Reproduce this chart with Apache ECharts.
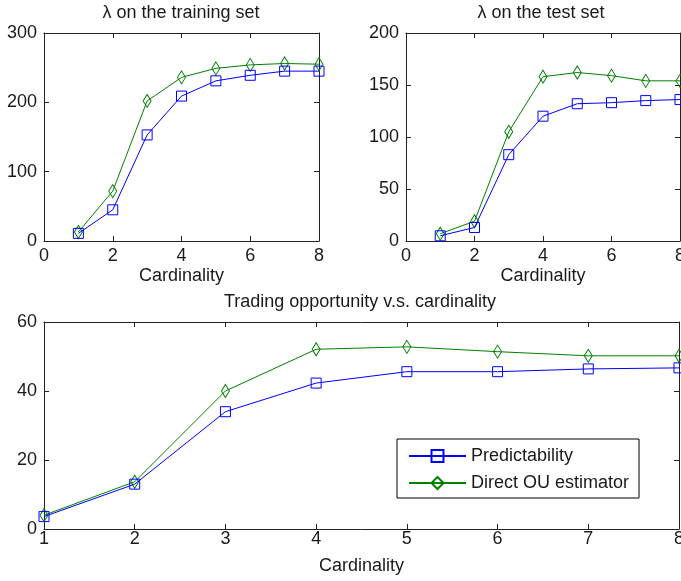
<!DOCTYPE html>
<html><head><meta charset="utf-8">
<script src="https://cdn.jsdelivr.net/npm/echarts@6/dist/echarts.min.js"></script>
<style>html,body{margin:0;padding:0;background:#fff;overflow:hidden}#c{width:681px;height:581px}</style>
</head><body><div id="c"></div>
<script>
const cardinality = [1, 2, 3, 4, 5, 6, 7, 8];
const trainPredict = [11, 45, 153, 209, 231, 239, 245, 245];
const trainOU = [13, 72, 202, 236, 249, 254, 256, 255];
const testPredict = [5, 13, 83, 120, 132, 133, 135, 136];
const testOU = [7, 19, 105, 158, 162, 159, 154, 154];
const tradePredict = [3.6, 13, 34, 42.3, 45.6, 45.6, 46.4, 46.7];
const tradeOU = [4, 13.7, 40, 52.1, 52.8, 51.4, 50.2, 50.2];
const titles = ['\u03bb on the training set', '\u03bb on the test set', 'Trading opportunity v.s. cardinality'];
const xName = 'Cardinality';
const seriesNames = ['Predictability', 'Direct OU estimator'];

const FONT = 'Liberation Sans';
const FS = 18;
const AX = '#222';
const TXT = '#1a1a1a';
const BLUE = '#0000ff', GREEN = '#008000';

const grids = [
  {left: 44, top: 33, width: 275, height: 208, outerBoundsMode: 'none', containLabel: false},
  {left: 406, top: 33, width: 274, height: 208, outerBoundsMode: 'none', containLabel: false},
  {left: 44, top: 322, width: 635, height: 207, outerBoundsMode: 'none', containLabel: false}
];
const xr = [[0, 8, 2], [0, 8, 2], [1, 8, 1]];
const yr = [[0, 300, 100], [0, 200, 50], [0, 60, 20]];
const xLabelMargin = [6, 6, 1];
const xNameGap = [26, 26, 28];

const xAxes = [], yAxes = [], series = [];
grids.forEach((g, i) => {
  const common = {gridIndex: i, splitLine: {show: false},
    axisLine: {show: true, onZero: false, lineStyle: {color: AX, width: 1}},
    axisTick: {show: true, inside: true, length: 5, lineStyle: {color: AX}}};
  xAxes.push(Object.assign({}, common, {type: 'value', position: 'bottom', min: xr[i][0], max: xr[i][1], interval: xr[i][2],
    name: xName, nameLocation: 'middle', nameGap: xNameGap[i],
    nameTextStyle: {fontFamily: FONT, fontSize: FS, color: TXT},
    axisLabel: {fontFamily: FONT, fontSize: FS, color: TXT, margin: xLabelMargin[i], showMaxLabel: true, hideOverlap: false}}));
  xAxes.push(Object.assign({}, common, {type: 'value', position: 'top', min: xr[i][0], max: xr[i][1], interval: xr[i][2],
    axisLabel: {show: false}}));
  yAxes.push(Object.assign({}, common, {type: 'value', position: 'left', min: yr[i][0], max: yr[i][1], interval: yr[i][2],
    axisLabel: {fontFamily: FONT, fontSize: FS, color: TXT, margin: 7}}));
  yAxes.push(Object.assign({}, common, {type: 'value', position: 'right', min: yr[i][0], max: yr[i][1], interval: yr[i][2],
    axisLabel: {show: false}}));
});

const dataSets = [[trainPredict, trainOU], [testPredict, testOU], [tradePredict, tradeOU]];
dataSets.forEach((pair, i) => {
  pair.forEach((vals, k) => {
    const col = k === 0 ? BLUE : GREEN;
    series.push({
      type: 'line', name: seriesNames[k], xAxisIndex: i * 2, yAxisIndex: i * 2,
      data: cardinality.map((c, j) => [c, vals[j]]),
      symbol: k === 0 ? 'rect' : 'diamond',
      symbolSize: k === 0 ? 10 : [8, 13],
      showSymbol: true, animation: false, clip: false,
      lineStyle: {color: col, width: 1},
      itemStyle: {color: 'rgba(0,0,0,0)', borderColor: col, borderWidth: 1},
      z: 3 + (1 - k)
    });
  });
});

const titleObjs = [
  {text: titles[0], left: 181, top: 4},
  {text: titles[1], left: 541, top: 4},
  {text: titles[2], left: 360, top: 293}
].map(t => ({text: t.text, left: t.left, top: t.top, textAlign: 'center', padding: 0,
  textStyle: {fontFamily: FONT, fontSize: FS, fontWeight: 'normal', color: TXT}}));

const chart = echarts.init(document.getElementById('c'), null, {renderer: 'canvas'});
chart.setOption({
  animation: false,
  backgroundColor: '#fff',
  title: titleObjs,
  grid: grids,
  xAxis: xAxes,
  yAxis: yAxes,
  legend: {
    data: seriesNames, orient: 'vertical', left: 397, top: 439,
    padding: [8, 10, 6, 11], itemWidth: 57, itemHeight: 15, itemGap: 9,
    borderColor: '#000', borderWidth: 1, backgroundColor: '#fff',
    textStyle: {fontFamily: FONT, fontSize: FS, color: TXT}
  },
  series: series
});
</script></body></html>
